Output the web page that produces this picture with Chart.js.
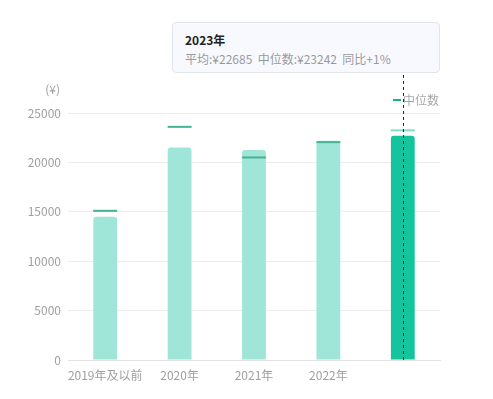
<!DOCTYPE html>
<html><head><meta charset="utf-8">
<script src="https://cdn.jsdelivr.net/npm/chart.js@4/dist/chart.umd.min.js"></script>
<style>
html,body{margin:0;padding:0;background:#fff;}
#wrap{position:relative;width:493px;height:399px;}
#tip{position:absolute;left:172px;top:22px;width:266px;height:49px;border:1px solid #e2e5ec;border-radius:4px;background:#f8f9fe;font-family:"Noto Sans CJK SC","Noto Sans",sans-serif;box-sizing:content-box;}
#tip .t{position:absolute;left:12px;top:8px;font-size:12px;font-weight:bold;color:#222;}
#tip .b{position:absolute;left:12px;top:27px;font-size:12px;color:#9a9a9a;white-space:pre;}
</style></head>
<body><div id="wrap"><canvas id="c" width="493" height="399"></canvas>
<div id="tip"><div class="t">2023年</div><div class="b">平均:¥22685  中位数:¥23242  同比+1%</div></div></div>
<script>
const categories = ["2019年及以前","2020年","2021年","2022年","2023年"];
const averages = [14500, 21500, 21250, 22200, 22685];
const medians = [15100, 23600, 20500, 22050, 23242];
const yTicks = [0, 5000, 10000, 15000, 20000, 25000];
const activeIndex = 4;
const medianLabel = "中位数";
const unitLabel = "(¥)";

const FONT = '"Noto Sans CJK SC","Noto Sans",sans-serif';

const overlay = {
  id: 'overlay',
  afterDatasetsDraw(chart) {
    const ctx = chart.ctx, ca = chart.chartArea;
    const x = chart.scales.x.getPixelForValue(activeIndex);
    ctx.save();
    ctx.strokeStyle = '#1b2a48';
    ctx.lineWidth = 1;
    ctx.setLineDash([3, 3]);
    ctx.beginPath();
    ctx.moveTo(Math.round(x) + 0.5, 75);
    ctx.lineTo(Math.round(x) + 0.5, ca.bottom);
    ctx.stroke();
    ctx.setLineDash([]);
    ctx.fillStyle = '#a0a0a0';
    ctx.font = '12px ' + FONT;
    ctx.textAlign = 'right';
    ctx.textBaseline = 'middle';
    ctx.fillText(unitLabel, ca.left - 8, ca.top - 24);
    ctx.strokeStyle = '#14b38c';
    ctx.lineWidth = 2;
    ctx.beginPath();
    ctx.moveTo(ca.right - 47, ca.top - 13);
    ctx.lineTo(ca.right - 39, ca.top - 13);
    ctx.stroke();
    ctx.textAlign = 'left';
    ctx.fillStyle = '#a8a8a8';
    ctx.fillText(medianLabel, ca.right - 37, ca.top - 13);
    ctx.restore();
  }
};

new Chart(document.getElementById('c'), {
  data: {
    labels: categories,
    datasets: [
      {
        type: 'line',
        label: medianLabel,
        data: medians,
        showLine: false,
        pointStyle: 'line',
        pointRadius: 12,
        pointHoverRadius: 12,
        pointBorderWidth: 2,
        pointBorderColor: medians.map((v, i) => i === activeIndex ? '#86d9c6' : '#43b394'),
        order: 0
      },
      {
        type: 'bar',
        label: '平均',
        data: averages,
        backgroundColor: averages.map((v, i) => i === activeIndex ? '#14c49c' : '#a0e6d8'),
        borderRadius: {topLeft: 3, topRight: 3},
        borderSkipped: 'bottom',
        categoryPercentage: 1,
        barPercentage: 0.32,
        order: 1
      }
    ]
  },
  options: {
    responsive: false,
    animation: false,
    events: [],
    layout: {padding: {top: 113, right: 53, left: 0, bottom: 0}},
    plugins: {legend: {display: false}, tooltip: {enabled: false}},
    scales: {
      x: {
        grid: {display: false, drawTicks: false},
        border: {display: true, color: '#e3e3e3'},
        ticks: {
          color: (c) => c.index === activeIndex ? '#ffffff' : '#a0a0a0',
          font: {size: 12, family: FONT},
          padding: 8,
          maxRotation: 0,
          autoSkip: false
        },
        afterFit(s) { s.height = 39; }
      },
      y: {
        min: 0, max: 25000,
        afterBuildTicks(s) { s.ticks = yTicks.map(v => ({value: v})); },
        grid: {color: '#ececec', drawTicks: false},
        border: {display: false},
        ticks: {color: '#a0a0a0', font: {size: 12, family: FONT}, padding: 7, callback: (v) => String(v)},
        afterFit(s) { s.width = 68; }
      }
    }
  },
  plugins: [overlay]
});
</script></body></html>
